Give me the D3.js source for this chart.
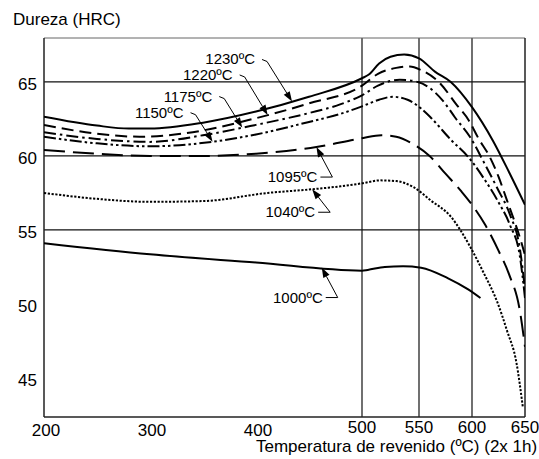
<!DOCTYPE html>
<meta charset="utf-8">
<style>
body { margin:0; background:white; font-family:"Liberation Sans", Arial, sans-serif; }
</style>
<script src="https://d3js.org/d3.v7.min.js"></script>
<div id="chart"></div>
<script>

// tempering temperature (ºC) and hardness (HRC)
var t1230 = [200,250,280,300,350,400,450,500,506,515,525,537,550,565,580,600,620,635,650];
var h1230 = [62.65,62.05,61.85,61.85,62.25,63.0,64.0,65.25,65.5,66.25,66.7,66.85,66.6,65.7,65.0,63.3,61.0,58.9,56.7];

var t1220 = [200,250,290,330,400,450,500,514,530,542,552,570,585,597,606,617,625,633,640,646,650];
var h1220 = [62.1,61.5,61.3,61.5,62.55,63.55,64.75,65.55,65.95,66.05,65.8,64.9,63.5,62.4,61.2,59.9,58.6,57.0,55.6,54.3,53.3];

var t1175 = [200,250,300,350,400,450,480,500,514,533,549,565,574,584,598,611,624,636,645,650];
var h1175 = [61.6,61.15,60.95,61.4,62.1,62.9,63.5,64.1,64.75,65.15,65.0,64.3,63.6,62.6,61.3,59.6,57.8,56.0,53.8,51.0];

var t1150 = [200,250,300,358,400,450,480,500,515,527,540,552,561,580,598,611,624,636,645,650];
var h1150 = [61.3,60.85,60.65,60.95,61.45,62.3,62.85,63.35,63.8,64.0,63.8,63.2,62.6,61.1,59.8,58.5,57.0,55.3,53.3,50.4];

var t1095 = [200,250,300,350,400,457,500,517,530,545,560,575,590,600,612,625,635,645,650];
var h1095 = [60.4,60.15,60.0,60.0,60.15,60.6,61.2,61.4,61.3,60.8,60.0,58.8,57.6,56.7,55.4,53.6,52.0,49.6,47.1];

var t1040 = [200,250,300,350,411,453,480,500,516,530,545,561,580,598,611,624,633,642,648];
var h1040 = [57.5,57.1,56.9,56.95,57.5,57.75,57.95,58.15,58.35,58.3,57.9,57.0,55.9,53.9,52.1,50.1,48.2,46.0,43.0];

var t1000 = [200,300,400,500,505,520,536,552,577,596,608];
var h1000 = [54.1,53.35,52.8,52.25,52.3,52.5,52.55,52.45,51.75,51.0,50.4];

var yTickValues = [45,50,55,60,65];
var yGridValues = [55,60,65];
var xTicksLow = [200,300,400];
var xTicksHigh = [500,550,600,650];
var xGridValues = [500,550,600];

var yTitle = "Dureza (HRC)";
var xTitle = "Temperatura de revenido (ºC) (2x 1h)";

// curves with their line style and label
var series = [
  {name:"1230ºC", t:t1230, h:h1230, dash:null,            tip:434, dx:-37, dy:-37, up:true},
  {name:"1220ºC", t:t1220, h:h1220, dash:"12,6",          tip:411, dx:-35, dy:-35, up:true},
  {name:"1175ºC", t:t1175, h:h1175, dash:"12,4,2.5,4",    tip:387, dx:-30, dy:-26, up:true},
  {name:"1150ºC", t:t1150, h:h1150, dash:"12,3,2.5,3,2.5,3", tip:359, dx:-29, dy:-24, up:true},
  {name:"1095ºC", t:t1095, h:h1095, dash:"21,8",          tip:457, dx:1,   dy:35,  up:false},
  {name:"1040ºC", t:t1040, h:h1040, dash:"2.2,1.6",       tip:453, dx:3,   dy:28,  up:false},
  {name:"1000ºC", t:t1000, h:h1000, dash:null,            tip:462, dx:1,   dy:35,  up:false}
];

var W = 539, H = 459;
var pLeft = 44, pRight = 525, pTop = 38, pBottom = 417;

var svg = d3.select("#chart").append("svg")
    .attr("width", W)
    .attr("height", H);

var x = d3.scaleLinear()
    .domain([200, 500, 550, 650])
    .range([pLeft, 362, 419, pRight]);

var y = d3.scaleLinear()
    .domain([42.36, 67.97])
    .range([pBottom, pTop]);

// grid
svg.selectAll(".hgrid")
  .data(yGridValues)
  .enter().append("line")
    .attr("x1", pLeft).attr("x2", pRight)
    .attr("y1", function(d) { return y(d); })
    .attr("y2", function(d) { return y(d); })
    .attr("stroke", "#111").attr("stroke-width", 1.2);

svg.selectAll(".vgrid")
  .data(xGridValues)
  .enter().append("line")
    .attr("y1", pTop).attr("y2", pBottom)
    .attr("x1", function(d) { return x(d); })
    .attr("x2", function(d) { return x(d); })
    .attr("stroke", "#111").attr("stroke-width", 1.2);

// frame
svg.append("line").attr("x1", pLeft).attr("x2", pRight).attr("y1", pTop).attr("y2", pTop)
    .attr("stroke", "#666").attr("stroke-width", 1);
svg.append("line").attr("x1", pRight).attr("x2", pRight).attr("y1", pTop).attr("y2", pBottom)
    .attr("stroke", "#222").attr("stroke-width", 1.5);
svg.append("line").attr("x1", pLeft).attr("x2", pLeft).attr("y1", pTop).attr("y2", pBottom)
    .attr("stroke", "#222").attr("stroke-width", 1.5);
svg.append("line").attr("x1", pLeft).attr("x2", pRight).attr("y1", pBottom).attr("y2", pBottom)
    .attr("stroke", "#222").attr("stroke-width", 1.5);

// tick labels
svg.selectAll(".ylab")
  .data(yTickValues)
  .enter().append("text")
    .attr("x", 37)
    .attr("y", function(d) { return y(d) + 8; })
    .attr("text-anchor", "end")
    .attr("font-size", 17)
    .text(function(d) { return d; });

svg.selectAll(".xlow")
  .data(xTicksLow)
  .enter().append("text")
    .attr("x", function(d) { return x(d) + 2; })
    .attr("y", 436)
    .attr("text-anchor", "middle")
    .attr("font-size", 17)
    .text(function(d) { return d; });

svg.selectAll(".xhigh")
  .data(xTicksHigh)
  .enter().append("text")
    .attr("x", function(d) { return x(d); })
    .attr("y", 433)
    .attr("text-anchor", "middle")
    .attr("font-size", 17)
    .text(function(d) { return d; });

svg.append("text").attr("x", 13).attr("y", 25).attr("font-size", 17).text(yTitle);
svg.append("text").attr("x", 256).attr("y", 452).attr("font-size", 17).text(xTitle);

// curves
svg.append("clipPath").attr("id", "plot")
  .append("rect").attr("x", pLeft).attr("y", pTop)
    .attr("width", pRight - pLeft).attr("height", pBottom - pTop);

var line = d3.line()
    .x(function(d) { return x(d[0]); })
    .y(function(d) { return y(d[1]); })
    .curve(d3.curveMonotoneX);

series.forEach(function(s) {
  var pts = s.t.map(function(t, i) { return [t, s.h[i]]; });
  svg.append("path")
    .attr("d", line(pts))
    .attr("fill", "none")
    .attr("stroke", "#000")
    .attr("stroke-width", 2)
    .attr("stroke-dasharray", s.dash)
    .attr("clip-path", "url(#plot)");
});

// labels with arrows
function valueAt(s, t) {
  var i = d3.bisectLeft(s.t, t);
  if (i <= 0) return s.h[0];
  var t0 = s.t[i-1], t1 = s.t[i];
  return s.h[i-1] + (s.h[i] - s.h[i-1]) * (t - t0) / (t1 - t0);
}

series.forEach(function(s) {
  var px = x(s.tip), py = y(valueAt(s, s.tip));
  var tx = px + s.dx, ty = py + s.dy;
  svg.append("text")
    .attr("x", tx).attr("y", ty)
    .attr("text-anchor", "end")
    .attr("font-size", 15)
    .text(s.name);

  var a, b;
  if (s.up) { a = [tx + 7, ty - 5]; b = [tx + 12, ty - 3]; }
  else { a = [tx + 3, ty - 5]; b = [tx + 15, ty - 5]; }

  var ang = Math.atan2(py - b[1], px - b[0]);
  var L = 10, w = 3.5;
  var bx = px - L * Math.cos(ang), by = py - L * Math.sin(ang);

  svg.append("path")
    .attr("d", d3.line()([a, b, [bx, by]]))
    .attr("fill", "none")
    .attr("stroke", "#000")
    .attr("stroke-width", 1);

  svg.append("path")
    .attr("d", d3.line()([
      [px, py],
      [bx + w * Math.sin(ang), by - w * Math.cos(ang)],
      [bx - w * Math.sin(ang), by + w * Math.cos(ang)]
    ]) + "Z")
    .attr("fill", "#000");
});

</script>
